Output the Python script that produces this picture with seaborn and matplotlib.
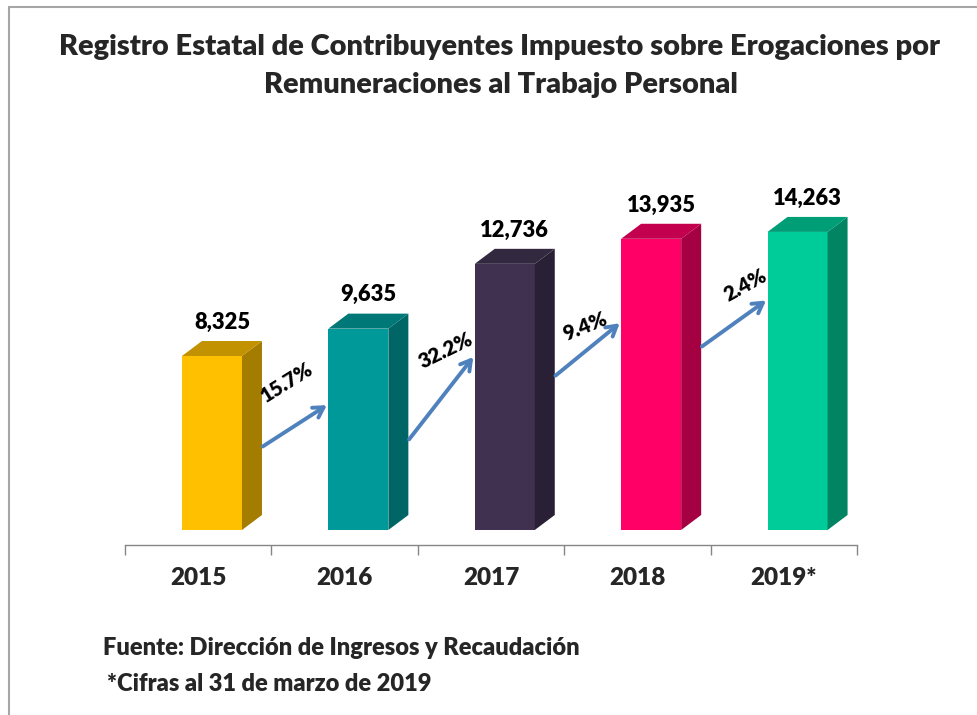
"""Registro Estatal de Contribuyentes ISERTP, 2015-2019 (3D-style bars)."""
import matplotlib.pyplot as plt
from matplotlib.patches import Polygon
from matplotlib.lines import Line2D
import seaborn as sns

# data
years = ["2015", "2016", "2017", "2018", "2019*"]
contribuyentes = [8325, 9635, 12736, 13935, 14263]

# colours: front / side / top faces
front_colors = ["#FFC000", "#009999", "#403151", "#FF0066", "#00CC99"]
side_colors = ["#A47C00", "#006565", "#2A2036", "#A50042", "#008462"]
top_colors = ["#C29200", "#007878", "#322840", "#C3004E", "#009E77"]

# layout (arrows as fraction of the bar values they connect)
arrow_start_frac = [0.48, 0.45, 0.58, 0.63]
arrow_end_frac = [0.62, 0.65, 0.71, 0.77]
pct_label_pos = [(0.607, 7080), (1.693, 8610), (2.642, 9760), (3.735, 11720)]
pct_label_rot = [32, 26, 22, 29]

sns.set_theme(style="white")
plt.rcParams["font.family"] = ["Lato", "DejaVu Sans"]
W = "heavy"

fig = plt.figure(figsize=(9.77, 7.15), dpi=100)
ax = fig.add_axes([125 / 977, 1 - 545 / 715, 732 / 977, 395 / 715])

bar_w = 0.41
shift = 0.094
dx = 0.1366  # depth in category units
dy = 718     # depth in value units

sns.barplot(x=years, y=contribuyentes, hue=years, palette=front_colors,
            width=bar_w, legend=False, ax=ax, saturation=1)

for i, patch in enumerate(ax.patches):
    patch.set_x(patch.get_x() + shift)
    patch.set_linewidth(0)
    x0 = patch.get_x()
    x1 = x0 + patch.get_width()
    h = patch.get_height()
    ax.add_patch(Polygon([(x1, 0), (x1 + dx, dy), (x1 + dx, h + dy), (x1, h)],
                         closed=True, facecolor=side_colors[i], lw=0))
    ax.add_patch(Polygon([(x0, h), (x0 + dx, h + dy), (x1 + dx, h + dy), (x1, h)],
                         closed=True, facecolor=top_colors[i], lw=0))
    ax.text(x0 + bar_w / 2 + dx / 2, h + dy + 900, f"{contribuyentes[i]:,}",
            ha="center", va="center", fontsize=15.8, fontweight=W,
            color="black")

# growth arrows between consecutive bars
for i in range(len(contribuyentes) - 1):
    xs = i + shift + bar_w / 2 + dx + 0.005
    xe = i + 1 + shift - bar_w / 2 - 0.01
    ys = contribuyentes[i] * arrow_start_frac[i]
    ye = contribuyentes[i + 1] * arrow_end_frac[i]
    ax.annotate("", xy=(xe, ye), xytext=(xs, ys),
                arrowprops=dict(arrowstyle="->,head_length=0.6,head_width=0.35",
                                color="#4F81BD", lw=2.8, shrinkA=0, shrinkB=0))
    growth = (contribuyentes[i + 1] / contribuyentes[i] - 1) * 100
    lx, ly = pct_label_pos[i]
    ax.text(lx, ly, f"{growth:.1f}%", ha="center", va="center",
            rotation=pct_label_rot[i], rotation_mode="anchor",
            fontsize=14.8, fontweight=W, color="black")

ax.set_xlim(-0.5, 4.5)
ax.set_ylim(-dy, 18183)
for side in ["left", "top", "right"]:
    ax.spines[side].set_visible(False)
ax.spines["bottom"].set_color("#868686")
ax.spines["bottom"].set_linewidth(1.0)
ax.set_yticks([])
ax.set_xticks([-0.5, 0.5, 1.5, 2.5, 3.5, 4.5])
ax.set_xticklabels([])
ax.set_xticks(range(len(years)), minor=True)
ax.set_xticklabels(years, minor=True, fontsize=17.5, fontweight=W)
ax.tick_params(axis="x", which="major", direction="out", length=7,
               color="#868686", width=1, bottom=True)
ax.tick_params(axis="x", which="minor", length=0, pad=16, bottom=True)
ax.set_xlabel("")
ax.set_ylabel("")
ax.set_facecolor("none")

fig.text(0.511, 1 - 47 / 715,
         "Registro Estatal de Contribuyentes Impuesto sobre Erogaciones por",
         ha="center", va="center", fontsize=20.85, fontweight=W)
fig.text(0.513, 1 - 85 / 715, "Remuneraciones al Trabajo Personal",
         ha="center", va="center", fontsize=20.85, fontweight=W)

fig.text(103 / 977, 1 - 648 / 715, "Fuente: Dirección de Ingresos y Recaudación",
         ha="left", va="center", fontsize=17, fontweight=W)
fig.text(107 / 977, 1 - 684 / 715, "*Cifras al 31 de marzo de 2019",
         ha="left", va="center", fontsize=17, fontweight=W)

# chart frame (top and left edges visible in the crop)
fig.add_artist(Line2D([9 / 977, 9 / 977], [0, 1 - 7 / 715],
                      transform=fig.transFigure, color="#A6A6A6", lw=1.5))
fig.add_artist(Line2D([9 / 977, 1], [1 - 7 / 715, 1 - 7 / 715],
                      transform=fig.transFigure, color="#A6A6A6", lw=1.5))

fig.savefig("out.png", dpi=100)
